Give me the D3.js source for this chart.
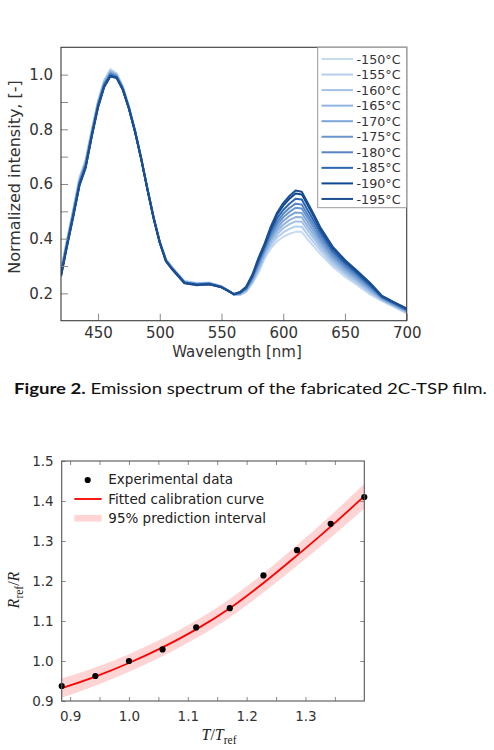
<!DOCTYPE html>
<html>
<head>
<meta charset="utf-8">
<script src="https://cdn.jsdelivr.net/npm/d3@7"></script>
<style>
  body { margin: 0; background: #fff; }
  svg { display: block; }
</style>
</head>
<body>
<div id="figure"></div>
<script>
// ---- Emission spectra (top chart) ----
var wavelengths = [420, 425, 430, 435, 440, 445, 450, 455, 460, 465, 470, 475, 480, 485, 490, 495, 500, 505, 510, 520,
  530, 540, 550, 555, 560, 565, 570, 575, 580, 585, 590, 595, 600, 605, 610, 615, 620, 625, 630, 640, 650, 660, 670, 680, 690, 700];

var tempLabels = ["-150°C", "-155°C", "-160°C", "-165°C", "-170°C", "-175°C", "-180°C", "-185°C", "-190°C", "-195°C"];

var s150 = [.285,.400,.510,.625,.690,.800,.905,.980,1.020,1.005,.958,.885,.797,.695,.585,.480,.390,.325,.296,.245,.238,.240,.226,.212,.196,.194,.205,.236,.275,.328,.365,.390,.407,.418,.425,.425,.396,.370,.345,.298,.261,.230,.197,.172,.150,.127];
var s155 = [.282,.397,.506,.621,.686,.797,.902,.977,1.016,1.003,.956,.884,.796,.694,.584,.479,.389,.324,.295,.244,.237,.239,.225,.212,.196,.195,.207,.240,.282,.335,.375,.404,.423,.436,.445,.444,.413,.385,.358,.307,.269,.237,.203,.174,.152,.129];
var s160 = [.279,.394,.503,.618,.683,.794,.899,.974,1.013,1.001,.955,.883,.795,.694,.584,.479,.389,.323,.294,.243,.236,.238,.225,.212,.196,.197,.210,.244,.289,.342,.385,.416,.438,.453,.463,.462,.430,.399,.369,.316,.276,.243,.208,.177,.154,.132];
var s165 = [.277,.391,.500,.614,.679,.791,.896,.971,1.010,.999,.953,.881,.794,.693,.583,.478,.388,.322,.293,.242,.235,.237,.225,.211,.196,.198,.212,.248,.295,.348,.394,.428,.451,.468,.479,.478,.444,.412,.380,.324,.283,.249,.212,.179,.156,.133];
var s170 = [.274,.388,.497,.611,.676,.788,.893,.968,1.007,.997,.952,.880,.794,.693,.583,.478,.388,.322,.292,.241,.234,.237,.224,.211,.196,.199,.214,.251,.301,.354,.403,.439,.465,.483,.496,.494,.459,.425,.391,.332,.290,.254,.217,.181,.158,.135];
var s175 = [.272,.386,.494,.608,.673,.786,.891,.966,1.004,.995,.950,.879,.793,.692,.582,.477,.387,.321,.291,.240,.233,.236,.224,.211,.197,.200,.216,.255,.307,.360,.411,.451,.478,.498,.513,.510,.474,.438,.401,.340,.296,.260,.222,.183,.160,.137];
var s180 = [.269,.383,.491,.605,.670,.783,.888,.963,1.002,.993,.949,.878,.792,.692,.582,.477,.387,.320,.291,.240,.233,.235,.223,.211,.197,.201,.218,.258,.312,.365,.419,.461,.491,.512,.528,.525,.487,.450,.411,.348,.302,.265,.226,.185,.162,.139];
var s185 = [.267,.380,.488,.601,.666,.780,.885,.960,.998,.991,.948,.877,.791,.691,.581,.476,.386,.319,.290,.239,.232,.234,.223,.210,.197,.203,.220,.262,.319,.372,.429,.474,.505,.528,.546,.543,.503,.464,.423,.356,.310,.272,.231,.187,.164,.141];
var s190 = [.264,.377,.484,.597,.662,.777,.882,.957,.995,.989,.946,.876,.790,.690,.580,.475,.385,.318,.289,.238,.231,.233,.222,.210,.197,.204,.223,.266,.326,.379,.439,.488,.521,.546,.565,.562,.521,.479,.435,.366,.318,.278,.237,.190,.166,.144];
var s195 = [.262,.375,.482,.595,.660,.775,.880,.955,.993,.988,.945,.875,.790,.690,.580,.475,.385,.318,.288,.237,.230,.233,.222,.210,.197,.205,.224,.268,.330,.383,.445,.495,.530,.556,.576,.572,.530,.487,.442,.371,.322,.282,.240,.191,.167,.145];

var spectra = [s150, s155, s160, s165, s170, s175, s180, s185, s190, s195];

var lineColors = ["#c6dbf2", "#b3cdec", "#a3c1e6", "#91b4df", "#7ca5d8", "#6a95ce", "#5784c2", "#2a65ae", "#0c4896", "#1d4f90"];

// ---- Calibration curve (bottom chart) ----
var tRatio = [0.8857, 0.9429, 1.0, 1.0571, 1.1143, 1.1714, 1.2286, 1.2857, 1.3429, 1.4];
var rRatio = [0.9375, 0.9625, 1.0, 1.029, 1.084, 1.132, 1.214, 1.277, 1.343, 1.41];
var fitValues = [0.932, 0.961, 0.995, 1.034, 1.079, 1.132, 1.195, 1.264, 1.336, 1.412];
var bandUpper = [0.956, 0.984, 1.017, 1.056, 1.101, 1.155, 1.219, 1.290, 1.364, 1.443];
var bandLower = [0.908, 0.938, 0.973, 1.012, 1.057, 1.109, 1.171, 1.238, 1.308, 1.381];
var legendLabels = ["Experimental data", "Fitted calibration curve", "95% prediction interval"];

var svgWidth = 494;
var svgHeight = 750;
var font = "'DejaVu Sans', Verdana, sans-serif";

var svg = d3.select("#figure")
  .append("svg")
  .attr("width", svgWidth)
  .attr("height", svgHeight);

// ================= top chart =================
var top1 = { left: 61, right: 406.7, top: 47.3, bottom: 320.7 };

var xSpec = d3.scaleLinear().domain([420, 700]).range([top1.left, top1.right]);
var ySpec = d3.scaleLinear().domain([0.1, 1.1]).range([top1.bottom, top1.top]);

svg.append("clipPath").attr("id", "specClip")
  .append("rect")
  .attr("x", top1.left).attr("y", top1.top)
  .attr("width", top1.right - top1.left).attr("height", top1.bottom - top1.top);

var specLine = d3.line()
  .x(function(d, i) { return xSpec(wavelengths[i]); })
  .y(function(d) { return ySpec(d); });

svg.append("g")
  .attr("clip-path", "url(#specClip)")
  .selectAll("path")
  .data(spectra)
  .enter()
  .append("path")
  .attr("d", specLine)
  .attr("fill", "none")
  .attr("stroke", function(d, i) { return lineColors[i]; })
  .attr("stroke-width", 2)
  .attr("stroke-linejoin", "round");

// axes (ticks pointing inside)
var specXAxis = d3.axisBottom(xSpec)
  .tickValues([450, 500, 550, 600, 650, 700])
  .tickSize(-7)
  .tickPadding(7);

var specYAxis = d3.axisLeft(ySpec)
  .tickValues(d3.range(2, 11).map(function(k) { return k / 10; }))
  .tickSize(-7)
  .tickPadding(8)
  .tickFormat(function(d) { return Math.round(d * 10) % 2 === 0 ? d3.format(".1f")(d) : ""; });

function styleAxis(g, size) {
  g.select(".domain").remove();
  g.selectAll(".tick line").attr("stroke", "#8a8a8a");
  g.selectAll(".tick text")
    .attr("fill", "#333")
    .style("font-family", font)
    .style("font-size", size + "px");
}

svg.append("g")
  .attr("transform", "translate(0," + top1.bottom + ")")
  .call(specXAxis)
  .call(styleAxis, 15);

svg.append("g")
  .attr("transform", "translate(" + top1.left + ",0)")
  .call(specYAxis)
  .call(styleAxis, 15);

svg.append("rect")
  .attr("x", top1.left).attr("y", top1.top)
  .attr("width", top1.right - top1.left).attr("height", top1.bottom - top1.top)
  .attr("fill", "none")
  .attr("stroke", "#3a3a3a")
  .attr("stroke-width", 1.1);

svg.append("text")
  .attr("x", 237).attr("y", 357)
  .attr("text-anchor", "middle")
  .attr("fill", "#333")
  .style("font-family", font)
  .style("font-size", "15px")
  .text("Wavelength [nm]");

svg.append("text")
  .attr("transform", "translate(20,177) rotate(-90)")
  .attr("text-anchor", "middle")
  .attr("fill", "#333")
  .style("font-family", font)
  .style("font-size", "16px")
  .text("Normalized intensity, [-]");

// legend box
var legend1 = svg.append("g");
legend1.append("rect")
  .attr("x", 317.7).attr("y", top1.top)
  .attr("width", top1.right - 317.7).attr("height", 160.4)
  .attr("fill", "#fff")
  .attr("stroke", "#999")
  .attr("stroke-width", 1);

var rows = legend1.selectAll("g.row")
  .data(tempLabels)
  .enter()
  .append("g")
  .attr("class", "row")
  .attr("transform", function(d, i) { return "translate(0," + (59 + i * 15.55) + ")"; });

rows.append("line")
  .attr("x1", 321.5).attr("x2", 353)
  .attr("stroke", function(d, i) { return lineColors[i]; })
  .attr("stroke-width", 2);

rows.append("text")
  .attr("x", 356.5).attr("y", 4.6)
  .attr("fill", "#333")
  .style("font-family", font)
  .style("font-size", "12.7px")
  .text(function(d) { return d; });

// caption
var caption = svg.append("text")
  .attr("x", 14).attr("y", 394)
  .attr("fill", "#111")
  .attr("textLength", 473)
  .attr("lengthAdjust", "spacingAndGlyphs")
  .style("font-family", "Lato, 'Open Sans', sans-serif")
  .style("font-size", "15.5px");
caption.append("tspan").attr("font-weight", "bold").text("Figure 2.");
caption.append("tspan").text(" Emission spectrum of the fabricated 2C-TSP film.");

// ================= bottom chart =================
var bot = { left: 61.7, right: 364.3, top: 461, bottom: 701 };

var xCal = d3.scaleLinear().domain(d3.extent(tRatio)).range([bot.left, bot.right]);
var yCal = d3.scaleLinear().domain([0.9, 1.5]).range([bot.bottom, bot.top]);

svg.append("clipPath").attr("id", "calClip")
  .append("rect")
  .attr("x", bot.left).attr("y", bot.top)
  .attr("width", bot.right - bot.left).attr("height", bot.bottom - bot.top);

var band = d3.area()
  .x(function(d, i) { return xCal(tRatio[i]); })
  .y0(function(d, i) { return yCal(bandLower[i]); })
  .y1(function(d, i) { return yCal(bandUpper[i]); })
  .curve(d3.curveMonotoneX);

var fitLine = d3.line()
  .x(function(d, i) { return xCal(tRatio[i]); })
  .y(function(d) { return yCal(d); })
  .curve(d3.curveMonotoneX);

var plot2 = svg.append("g").attr("clip-path", "url(#calClip)");

plot2.append("path")
  .attr("d", band(fitValues))
  .attr("fill", "#ffcccc")
  .attr("opacity", 0.85);

plot2.append("path")
  .attr("d", fitLine(fitValues))
  .attr("fill", "none")
  .attr("stroke", "#ff0000")
  .attr("stroke-width", 1.8);

svg.append("g")
  .selectAll("circle")
  .data(rRatio)
  .enter()
  .append("circle")
  .attr("cx", function(d, i) { return xCal(tRatio[i]); })
  .attr("cy", function(d) { return yCal(d); })
  .attr("r", 3.1)
  .attr("fill", "#000");

var calXAxis = d3.axisBottom(xCal)
  .tickValues(d3.range(18, 28).map(function(k) { return k / 20; }))
  .tickSize(-4)
  .tickPadding(10)
  .tickFormat(function(d) { return Math.round(d * 20) % 2 === 0 ? d3.format(".1f")(d) : ""; });

var calXTop = d3.axisTop(xCal)
  .tickValues(d3.range(18, 28).map(function(k) { return k / 20; }))
  .tickSize(-4)
  .tickFormat("");

var calYAxis = d3.axisLeft(yCal)
  .tickValues(d3.range(9, 16).map(function(k) { return k / 10; }))
  .tickSize(-4)
  .tickPadding(8)
  .tickFormat(d3.format(".1f"));

var calYRight = d3.axisRight(yCal)
  .tickValues(d3.range(10, 15).map(function(k) { return k / 10; }))
  .tickSize(-4)
  .tickFormat("");

svg.append("g").attr("transform", "translate(0," + bot.bottom + ")").call(calXAxis).call(styleAxis, 13.5);
svg.append("g").attr("transform", "translate(0," + bot.top + ")").call(calXTop).call(styleAxis, 13.5);
svg.append("g").attr("transform", "translate(" + bot.left + ",0)").call(calYAxis).call(styleAxis, 13.5);
svg.append("g").attr("transform", "translate(" + bot.right + ",0)").call(calYRight).call(styleAxis, 13.5);

svg.append("rect")
  .attr("x", bot.left).attr("y", bot.top)
  .attr("width", bot.right - bot.left).attr("height", bot.bottom - bot.top)
  .attr("fill", "none")
  .attr("stroke", "#555")
  .attr("stroke-width", 1.1);

// legend
var legend2 = svg.append("g").style("font-family", font).style("font-size", "13.5px");
legend2.append("circle").attr("cx", 87.7).attr("cy", 480).attr("r", 3.1).attr("fill", "#000");
legend2.append("line").attr("x1", 74.3).attr("x2", 101.7).attr("y1", 499).attr("y2", 499)
  .attr("stroke", "#ff0000").attr("stroke-width", 1.8);
legend2.append("rect").attr("x", 74.3).attr("y", 515).attr("width", 27.4).attr("height", 6.5)
  .attr("fill", "#ffcccc").attr("opacity", 0.85);
legend2.selectAll("text")
  .data(legendLabels)
  .enter()
  .append("text")
  .attr("x", 108.3)
  .attr("y", function(d, i) { return 484.3 + i * 19.2; })
  .attr("fill", "#222")
  .text(function(d) { return d; });

// axis labels in math style
var serif = "'Liberation Serif', 'DejaVu Serif', serif";
var xLab = svg.append("text")
  .attr("x", 219).attr("y", 740)
  .attr("text-anchor", "middle")
  .attr("fill", "#222")
  .style("font-family", serif)
  .style("font-size", "16px");
xLab.append("tspan").attr("font-style", "italic").text("T");
xLab.append("tspan").text("/");
xLab.append("tspan").attr("font-style", "italic").text("T");
xLab.append("tspan").attr("dy", 3.5).style("font-size", "11.5px").text("ref");

var yLab = svg.append("text")
  .attr("transform", "translate(19,590) rotate(-90)")
  .attr("text-anchor", "middle")
  .attr("fill", "#222")
  .style("font-family", serif)
  .style("font-size", "16px");
yLab.append("tspan").attr("font-style", "italic").text("R");
yLab.append("tspan").attr("dy", 3.5).style("font-size", "11.5px").text("ref");
yLab.append("tspan").attr("dy", -3.5).text("/");
yLab.append("tspan").attr("font-style", "italic").text("R");
</script>
</body>
</html>
